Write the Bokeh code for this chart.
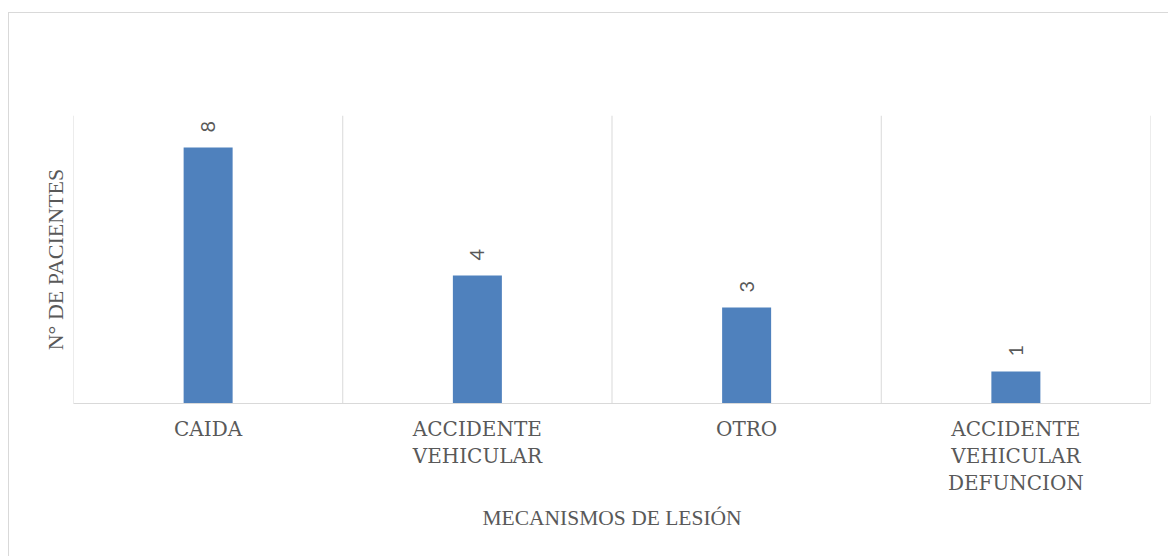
from bokeh.plotting import figure
from bokeh.models import ColumnDataSource, Range1d, Span, LinearAxis, FixedTicker
from bokeh.core.properties import value
from bokeh.embed import file_html
from bokeh.resources import INLINE
import math

# Data
categories = ["CAIDA", "ACCIDENTE VEHICULAR", "OTRO", "ACCIDENTE VEHICULAR DEFUNCION"]
tick_labels = ["CAIDA", "ACCIDENTE\nVEHICULAR", "OTRO", "ACCIDENTE\nVEHICULAR\nDEFUNCION"]
patients = [8, 4, 3, 1]

SERIF = "Liberation Serif"
GRAY_TEXT = "#595959"
GRID = "#d9d9d9"
BAR = "#4f81bd"

# each category occupies one unit slot; its centre is index + 0.5
centers = [i + 0.5 for i in range(len(categories))]

source = ColumnDataSource(dict(
    x=centers,
    cat=categories,
    n=patients,
    label=[str(v) for v in patients],
))

p = figure(
    x_range=Range1d(0, len(categories)),
    y_range=Range1d(0, 9),
    width=1160, height=544,
    output_backend="svg",
    toolbar_location=None,
    min_border_left=64, min_border_right=19,
    min_border_top=102, min_border_bottom=154,
)
p.margin = (12, 0, 0, 8)
p.styles = {"border-top": f"1px solid {GRID}", "border-left": f"1px solid {GRID}"}
p.outline_line_color = None
p.background_fill_color = "white"
p.border_fill_color = "white"

p.vbar(x="x", top="n", width=0.182, source=source,
       fill_color=BAR, line_color=None)

p.text(x="x", y="n", text="label", source=source,
       angle=math.pi / 2, text_align="left", text_baseline="middle",
       y_offset=-15, text_font=value("Lato"), text_font_size="20px",
       text_color=GRAY_TEXT)

# category separators
p.xgrid.grid_line_color = None
p.ygrid.grid_line_color = None
for i in range(len(categories) + 1):
    p.add_layout(Span(location=i, dimension="height",
                      line_color=GRID, line_width=1))

# wrapped category names: one stacked axis per text line
lines = [lab.split("\n") for lab in tick_labels]
n_lines = max(len(l) for l in lines)

axes = [p.xaxis[0]]
for k in range(1, n_lines):
    ax = LinearAxis()
    p.add_layout(ax, "below")
    axes.append(ax)

for k, ax in enumerate(axes):
    ticks = [c for c, l in zip(centers, lines) if k < len(l)]
    ax.ticker = FixedTicker(ticks=ticks)
    ax.major_label_overrides = {c: l[k] for c, l in zip(centers, lines) if k < len(l)}
    ax.major_tick_line_color = None
    ax.minor_tick_line_color = None
    ax.major_tick_out = 0
    ax.major_tick_in = 0
    ax.major_label_text_font = "DejaVu Serif"
    ax.major_label_text_font_size = "20px"
    ax.major_label_text_color = GRAY_TEXT
    ax.major_label_standoff = 13 if k == 0 else 0
    ax.axis_line_color = GRID if k == 0 else None

title_axis = axes[-1]
title_axis.axis_label = "MECANISMOS DE LESIÓN"
title_axis.axis_label_text_font = SERIF
title_axis.axis_label_text_font_size = "21.5px"
title_axis.axis_label_text_font_style = "normal"
title_axis.axis_label_text_color = GRAY_TEXT
title_axis.axis_label_standoff = 8

# y axis: title only
p.yaxis.ticker = []
p.yaxis.axis_line_color = None
p.yaxis.major_tick_line_color = None
p.yaxis.minor_tick_line_color = None
p.yaxis.axis_label = "N° DE PACIENTES"
p.yaxis.axis_label_text_font = SERIF
p.yaxis.axis_label_text_font_size = "22px"
p.yaxis.axis_label_text_font_style = "normal"
p.yaxis.axis_label_text_color = GRAY_TEXT
p.yaxis.axis_label_standoff = 6

open("out.html", "w").write(file_html(p, INLINE))
